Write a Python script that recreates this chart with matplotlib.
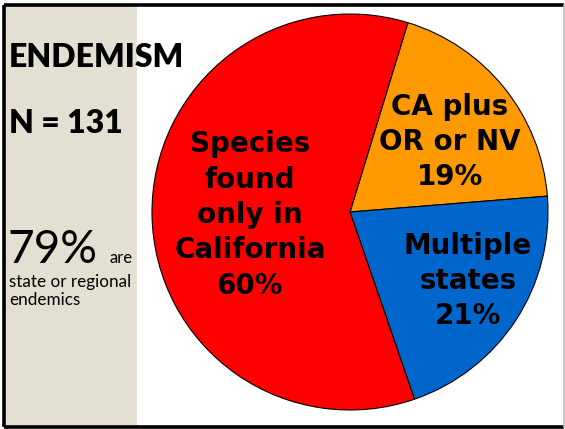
import matplotlib
matplotlib.use("Agg")
import matplotlib.pyplot as plt
from matplotlib.patches import Rectangle

# Data
categories = ["CA plus\nOR or NV", "Multiple\nstates", "Species\nfound\nonly in\nCalifornia"]
values = [19, 21, 60]
colors = ["#FF9900", "#0066CC", "#FF0000"]

W, H = 565, 429
fig = plt.figure(figsize=(W / 100, H / 100), dpi=100)
ax = fig.add_axes([0, 0, 1, 1])
ax.set_xlim(0, W)
ax.set_ylim(0, H)
ax.set_aspect("equal")
ax.axis("off")

def Y(y):
    return H - y

# left beige panel
ax.add_patch(Rectangle((4, Y(427)), 133, 427 - 5, facecolor="#E3E0D1", edgecolor="none", zorder=0))

# frame
ax.plot([4, 564], [Y(5), Y(5)], color="black", lw=2.6, solid_capstyle="butt", zorder=5)
ax.plot([4, 564], [Y(427), Y(427)], color="black", lw=2.6, solid_capstyle="butt", zorder=5)
ax.plot([4, 4], [Y(5), Y(427)], color="black", lw=2.6, solid_capstyle="butt", zorder=5)
ax.plot([564, 564], [Y(5), Y(427)], color="#BBBBBB", lw=1.2, zorder=5)

# pie
ax.pie(values, colors=colors, startangle=73, counterclock=False,
       center=(350, Y(212)), radius=198, frame=True,
       wedgeprops=dict(edgecolor="black", linewidth=0.8))
ax.set_xlim(0, W)
ax.set_ylim(0, H)
ax.axis("off")

pie_font = dict(family="DejaVu Sans", weight="heavy", fontsize=20, ha="center", va="center",
                linespacing=1.33, color="black")
ax.text(450, Y(142), f"{categories[0]}\n{values[0]}%", **pie_font)
ax.text(468, Y(281), f"{categories[1]}\n{values[1]}%", **pie_font)
ax.text(250, Y(215), f"{categories[2]}\n{values[2]}%", **pie_font)

# left panel texts
ax.text(9, Y(67), "ENDEMISM", family="Lato", weight="heavy", fontsize=23, ha="left", va="baseline")
ax.text(9, Y(133), "N = 131", family="Lato", weight="heavy", fontsize=23, ha="left", va="baseline")
ax.text(8, Y(263), "79%", family="Lato", fontsize=33, ha="left", va="baseline")
ax.text(109, Y(263), "are", family="Lato", fontsize=12, ha="left", va="baseline")
ax.text(9, Y(287), "state or regional", family="Lato", fontsize=12.3, ha="left", va="baseline")
ax.text(9, Y(305), "endemics", family="Lato", fontsize=12.3, ha="left", va="baseline")

fig.savefig("out.png", dpi=100)
